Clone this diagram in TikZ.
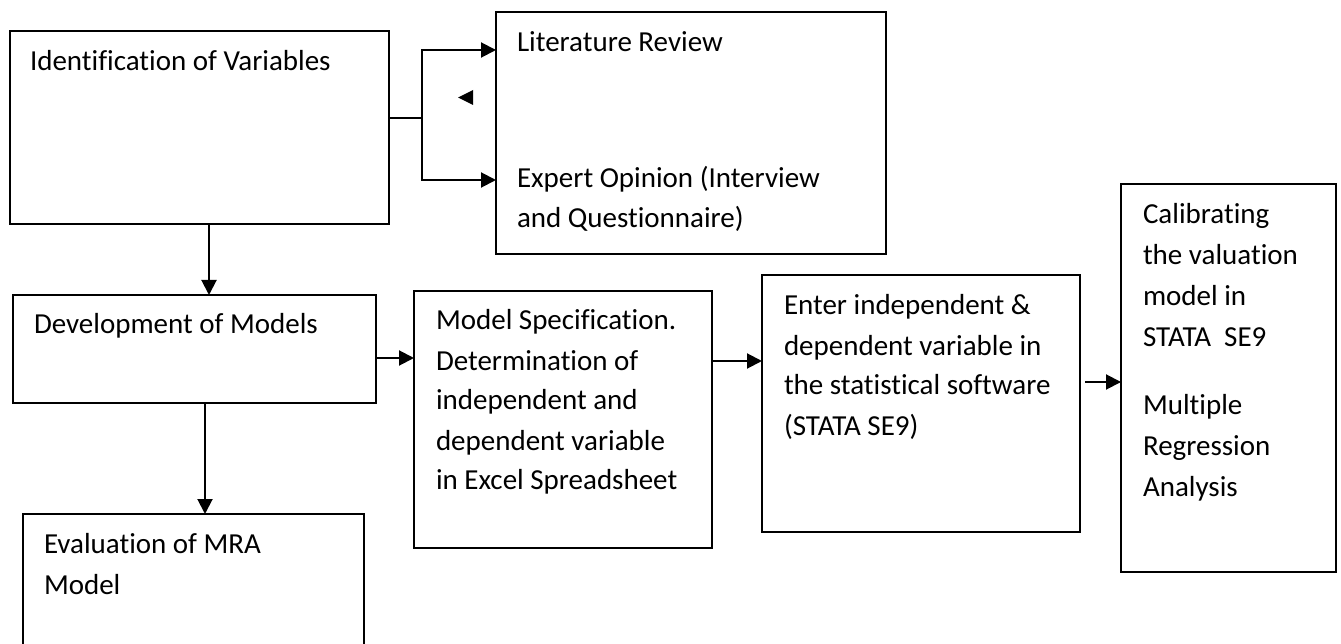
\documentclass[tikz,border=0pt]{standalone}
\usepackage{fontspec}
\setmainfont{Carlito}[Ligatures={NoCommon}]
\usetikzlibrary{arrows.meta}
\begin{document}
\begin{tikzpicture}[x=1pt,y=-1pt,
  box/.style={draw=black, line width=1.8pt, rectangle, inner sep=0pt, outer sep=0pt},
  txt/.style={anchor=base west, inner sep=0pt, outer sep=0pt, font=\fontsize{29}{40}\selectfont},
  arr/.style={line width=2pt, -{Triangle[length=15pt,width=15pt]}},
  plain/.style={line width=1.3pt}
]
\useasboundingbox (0,0) rectangle (1341,644);
\begin{scope}
\clip (0,0) rectangle (1341,644);
% boxes
\node[box, minimum width=379pt, minimum height=193pt] (ident) at (199.5,127.5) {};
\node[box, minimum width=390pt, minimum height=242pt] (litexp) at (691,133) {};
\node[box, minimum width=363pt, minimum height=108pt] (dev) at (194.5,349) {};
\node[box, minimum width=341pt, minimum height=146pt] (eval) at (193.5,587) {};
\node[box, minimum width=298pt, minimum height=257pt] (spec) at (563,419.5) {};
\node[box, minimum width=318pt, minimum height=257pt] (enter) at (921,403.5) {};
\node[box, minimum width=215pt, minimum height=388pt] (calib) at (1228.5,378) {};
\end{scope}
% texts
\node[txt] (tident) at (30,71) {Identification of Variables};
\node[txt] (tlit) at (517,52) {Literature Review};
\node[txt] (texp) at (517,188) {\begin{tabular}[t]{@{}l@{}}Expert Opinion (Interview\\ and Questionnaire)\end{tabular}};
\node[txt] (tdev) at (34,334) {Development of Models};
\node[txt] (teval) at (44,553) {\fontsize{29}{41}\selectfont\begin{tabular}[t]{@{}l@{}}Evaluation of MRA\\ Model\end{tabular}};
\node[txt] (tspec) at (436,330) {\begin{tabular}[t]{@{}l@{}}Model Specification.\\ Determination of\\ independent and\\ dependent variable\\ in Excel Spreadsheet\end{tabular}};
\node[txt] (tenter) at (784,315) {\begin{tabular}[t]{@{}l@{}}Enter independent \&\\ dependent variable in\\ the statistical software\\ (STATA SE9)\end{tabular}};
\node[txt] (tcalib) at (1143,224) {\fontsize{29}{41}\selectfont\begin{tabular}[t]{@{}l@{}}Calibrating\\ the valuation\\ model in\\ STATA~~SE9\\[27pt] Multiple\\ Regression\\ Analysis\end{tabular}};
% helper coordinates
\coordinate (br) at (422,118);
\coordinate (yLit) at (0,50);
\coordinate (yExp) at (0,180);
\coordinate (xA) at (209,0);
\coordinate (xB) at (205,0);
\coordinate (yC) at (0,358);
\coordinate (yD) at (0,361);
\coordinate (yE) at (0,382);
% connectors
\draw[plain] (ident.east |- br) -- (br);
\draw[arr] ([yshift=-0.65pt]br) |- (litexp.west |- yLit);
\draw[arr] ([yshift=0.65pt]br) |- (litexp.west |- yExp);
\fill (473,90) -- (458,97.5) -- (473,105) -- cycle;
\draw[arr] (ident.south -| xA) -- (dev.north -| xA);
\draw[arr] (dev.south -| xB) -- (eval.north -| xB);
\draw[arr] (dev.east |- yC) -- (spec.west |- yC);
\draw[arr] (spec.east |- yD) -- (enter.west |- yD);
\draw[arr] ([xshift=5pt]enter.east |- yE) -- (calib.west |- yE);
\end{tikzpicture}
\end{document}
